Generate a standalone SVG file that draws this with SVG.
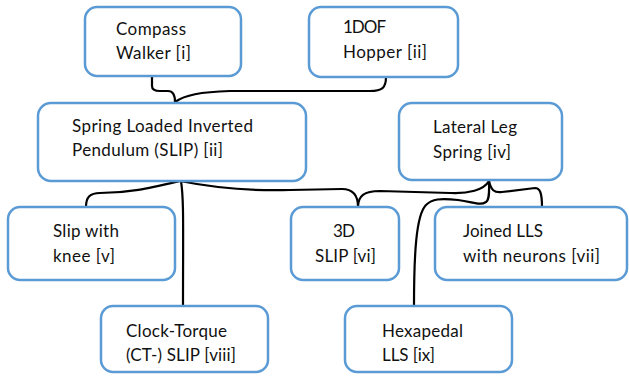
<svg xmlns="http://www.w3.org/2000/svg" width="629" height="379" viewBox="0 0 629 379">
<style>
.box{fill:#fff;stroke:#5B9BD5;stroke-width:2.5}
.t{font-family:Lato,"Liberation Sans",sans-serif;font-size:17px;fill:#111}
.c{fill:none;stroke:#000;stroke-width:2.2;stroke-linecap:round}
</style>
<rect width="629" height="379" fill="#fff"/>
<g id="connectors">
<path class="c" d="M152,76 L152,86 C152,90 155,91 160,91 L168,91 C173,91 175,96 175,102"/>
<path class="c" d="M175,102 C185,95 200,92 230,91 L370,91 C382,91 386,88 386,77"/>
<path class="c" d="M180,181 C150,188 130,193 100,193 C90,193 86,197 86,207"/>
<path class="c" d="M181,181 C184,200 183,230 183,306"/>
<path class="c" d="M180,181 C220,189 255,191 290,190 L342,189 C352,189 358,194 358,207"/>
<path class="c" d="M358,207 C358,196 364,191 380,191 L450,193 C468,194 484,190 489,181"/>
<path class="c" d="M414,306 C414,255 416,215 426,205 C432,199 440,198 458,200 C474,202 480,206 486,202 C490,199 489,190 489,181"/>
<path class="c" d="M489,181 C491,190 494,193 502,192 L535,188 C540,188 542,193 542,207"/>
</g>
<g id="compass"><rect class="box" x="85" y="7" width="156" height="69" rx="12"/>
<text class="t" x="116" y="35" textLength="70">Compass</text><text class="t" x="116" y="59" textLength="75">Walker [i]</text></g>
<g id="hopper"><rect class="box" x="309" y="7" width="149" height="70" rx="12"/>
<text class="t" x="343" y="33" textLength="43">1DOF</text><text class="t" x="343" y="58" textLength="84">Hopper [ii]</text></g>
<g id="slip"><rect class="box" x="38" y="103" width="268" height="78" rx="13"/>
<text class="t" x="72" y="132" textLength="181">Spring Loaded Inverted</text><text class="t" x="72" y="156" textLength="151">Pendulum (SLIP) [ii]</text></g>
<g id="lls"><rect class="box" x="399" y="103" width="163" height="77" rx="13"/>
<text class="t" x="433" y="133" textLength="84">Lateral Leg</text><text class="t" x="433" y="158" textLength="78">Spring [iv]</text></g>
<g id="knee"><rect class="box" x="8" y="207" width="167" height="73" rx="12"/>
<text class="t" x="53" y="237" textLength="66">Slip with</text><text class="t" x="53" y="262" textLength="62">knee [v]</text></g>
<g id="slip3d"><rect class="box" x="291" y="207" width="108" height="73" rx="12"/>
<text class="t" x="333" y="237" textLength="22">3D</text><text class="t" x="315" y="262" textLength="61">SLIP [vi]</text></g>
<g id="joined"><rect class="box" x="435" y="207" width="192" height="73" rx="12"/>
<text class="t" x="463" y="237" textLength="80">Joined LLS</text><text class="t" x="463" y="262" textLength="137">with neurons [vii]</text></g>
<g id="ct"><rect class="box" x="101" y="306" width="167" height="66" rx="12"/>
<text class="t" x="126" y="337" textLength="101">Clock-Torque</text><text class="t" x="126" y="361" textLength="110">(CT-) SLIP [viii]</text></g>
<g id="hex"><rect class="box" x="345" y="306" width="167" height="66" rx="12"/>
<text class="t" x="382" y="337" textLength="81">Hexapedal</text><text class="t" x="382" y="361" textLength="53">LLS [ix]</text></g>
</svg>
